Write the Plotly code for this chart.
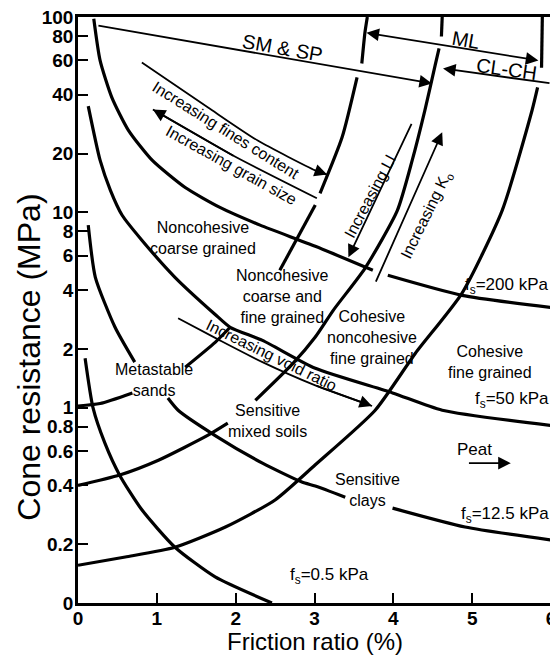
import numpy as np
import plotly.graph_objects as go

# ---------------- data (friction ratio %, cone resistance MPa) ----------------
fs200_rf = [0.20, 0.28, 0.43, 0.64, 0.94, 1.36, 1.80, 2.31, 3.01, 3.74, None, 3.93, 4.87, 6.0]
fs200_q = [98, 60, 38.7, 26.3, 18.5, 13.4, 10.6, 8.6, 6.7, 5.05, None, 4.76, 3.76, 3.26]

fs50_rf = [0.13, 0.28, 0.41, 0.56, 0.81, 1.23, 1.74, 1.93, 2.34, 3.01, 3.99, 4.62, 6.0]
fs50_q = [35, 18.5, 13.0, 9.66, 7.2, 4.65, 3.0, 2.58, 2.21, 1.59, 1.19, 0.97, 0.81]

fs12_rf = [0.13, 0.22, 0.47, 0.72, None, 1.14, 1.27, 1.74, 2.34, 2.84, 3.01, 3.39, None, 3.99, 4.91, 6.0]
fs12_q = [8.6, 4.65, 2.58, 1.71, None, 1.12, 0.97, 0.72, 0.52, 0.416, 0.397, 0.348, None, 0.306, 0.245, 0.21]

fs05_rf = [0.09, 0.19, 0.34, 0.53, 0.81, 1.23, 1.74, 2.46]
fs05_q = [1.79, 1.0, 0.66, 0.45, 0.30, 0.193, 0.136, 0.1]

bndE_rf = [0.0, 0.60, 1.23, 1.87, 2.50, 3.01, 3.77, 4.28, 4.87, 5.38, 5.76, 5.83, None, 5.88, 5.89]
bndE_q = [0.156, 0.172, 0.193, 0.245, 0.337, 0.51, 0.97, 1.90, 3.85, 10.2, 33.3, 43.6, None, 55, 100]

bndF_rf = [0.0, 0.53, 1.02, 1.65, 1.90, None, 2.25, 2.73, 3.01, 3.24, 3.64, 4.05, 4.24, 4.40, 4.53, 4.58, None, 4.61, 4.62]
bndF_q = [0.40, 0.452, 0.538, 0.723, 0.833, None, 1.09, 1.69, 2.30, 3.16, 5.17, 10.2, 18.5, 33.3, 56.5, 69, None, 79.5, 100]

bndG_rf = [0.0, 0.28, 0.69, None, 1.36, 1.74, 1.93, None, 2.56, 3.01, None, 3.07, 3.35, 3.54, None, 3.60, 3.64, 3.67]
bndG_q = [1.02, 1.05, 1.19, None, 1.61, 2.16, 2.58, None, 5.05, 10.9, None, 12.5, 24.2, 49.1, None, 57.8, 83.3, 100]

# trend arrows (curved bodies)
fines_rf = [0.81, 1.65, 2.28, 3.01, 3.16]
fines_q = [58.5, 34.4, 23.3, 16.4, 15.6]
grain_rf = [3.03, 1.99, 0.95]
grain_q = [11.8, 19.3, 33.6]
void_rf = [1.27, 1.80, 2.34, 3.01, 3.73]
void_q = [2.87, 2.21, 1.71, 1.30, 1.02]

# straight arrows: (tail_rf, tail_q, head_rf, head_q)
smsp_arrow = [0.24, 90.5, 4.49, 45.7]
ml_arrow = [3.64, 83.3, 5.84, 59.9]
clch_arrow = [6.0, 45.7, 4.63, 54.5]
li_arrow = [4.24, 28.9, 3.43, 5.89]
ko_arrow = [3.77, 4.34, 4.62, 25.7]
peat_arrow = [4.94, 0.52, 5.49, 0.52]

ytick_vals = [0.1, 0.2, 0.4, 0.6, 0.8, 1, 2, 4, 6, 8, 10, 20, 40, 60, 80, 100]
ytick_text = ["0", "0.2", "0.4", "0.6", "0.8", "1", "2", "4", "6", "8", "10", "20", "40", "60", "80", "100"]
xtick_vals = [0, 1, 2, 3, 4, 5, 6]

FONT = "Liberation Sans, Arial, Helvetica, sans-serif"

fig = go.Figure()

main_line = dict(color="black", width=3.2, shape="spline", smoothing=0.6)
for rf, q in [(fs200_rf, fs200_q), (fs50_rf, fs50_q), (fs12_rf, fs12_q), (fs05_rf, fs05_q),
              (bndE_rf, bndE_q), (bndF_rf, bndF_q), (bndG_rf, bndG_q)]:
    fig.add_trace(go.Scatter(x=rf, y=q, mode="lines", line=main_line, connectgaps=False,
                             hoverinfo="skip", showlegend=False))

thin_line = dict(color="black", width=1.8, shape="spline", smoothing=0.6)
for rf, q in [(fines_rf, fines_q), (grain_rf, grain_q), (void_rf, void_q)]:
    fig.add_trace(go.Scatter(x=rf, y=q, mode="lines", line=thin_line,
                             hoverinfo="skip", showlegend=False))

anns = []


def arrow(tx, tq, hx, hq, both=False):
    d = dict(x=hx, y=np.log10(hq), ax=tx, ay=np.log10(tq), xref="x", yref="y",
             axref="x", ayref="y", text="", showarrow=True, arrowhead=2,
             arrowsize=1.4, arrowwidth=1.8, arrowcolor="black", standoff=0, startstandoff=0)
    if both:
        d.update(arrowside="end+start", startarrowhead=2, startarrowsize=1.4)
    anns.append(d)


for a in [smsp_arrow, clch_arrow, li_arrow, ko_arrow, peat_arrow]:
    arrow(*a)
arrow(*ml_arrow, both=True)
# heads of curved arrows
arrow(fines_rf[-2], fines_q[-2], fines_rf[-1], fines_q[-1])
arrow(grain_rf[-2], grain_q[-2], grain_rf[-1], grain_q[-1])
arrow(void_rf[-2], void_q[-2], void_rf[-1], void_q[-1])


def label(txt, rf, q, size=16, angle=0, xanchor="center"):
    anns.append(dict(x=rf, y=np.log10(q), xref="x", yref="y", text=txt, showarrow=False,
                     textangle=angle, xanchor=xanchor, yanchor="middle",
                     font=dict(family=FONT, size=size, color="black")))


label("SM &amp; SP", 2.60, 69.8, size=20, angle=10)
label("ML", 4.92, 76.7, size=20, angle=10)
label("CL-CH", 5.44, 53.9, size=20, angle=8)
label("Increasing fines content", 1.88, 26.2, angle=32)
label("Increasing grain size", 1.95, 17.4, angle=29)
label("Increasing LI", 3.70, 12.1, angle=-62)
label("Increasing K<sub>o</sub>", 4.42, 9.66, angle=-64)
label("Increasing void ratio", 2.46, 1.86, angle=26)
label("Noncohesive<br>coarse grained", 1.59, 7.36)
label("Noncohesive<br>coarse and<br>fine grained", 2.59, 3.72)
label("Cohesive<br>noncohesive<br>fine grained", 3.73, 2.30)
label("Cohesive<br>fine grained", 5.23, 1.71)
label("f<sub>s</sub>=200 kPa", 6.0, 4.18, size=17, xanchor="right")
label("f<sub>s</sub>=50 kPa", 6.0, 1.09, size=17, xanchor="right")
label("f<sub>s</sub>=12.5 kPa", 6.0, 0.282, size=17, xanchor="right")
label("f<sub>s</sub>=0.5 kPa", 3.19, 0.137, size=17)
label("Metastable<br>sands", 0.96, 1.38)
label("Sensitive<br>mixed soils", 2.40, 0.853)
label("Sensitive<br>clays", 3.67, 0.378)
label("Peat", 5.03, 0.614, size=17)

# axis titles
anns.append(dict(x=0.5, y=-0.0656, xref="paper", yref="paper", text="Friction ratio (%)",
                 showarrow=False, xanchor="center", yanchor="middle",
                 font=dict(family=FONT, size=24, color="black")))
anns.append(dict(x=-0.104, y=0.42, xref="paper", yref="paper", text="Cone resistance (MPa)",
                 showarrow=False, xanchor="center", yanchor="middle", textangle=-90,
                 borderpad=0, font=dict(family=FONT, size=32, color="black")))

axis_common = dict(showgrid=False, zeroline=False, showline=True, linecolor="black",
                   linewidth=2.5, mirror=True, ticks="inside", ticklen=10, tickwidth=2,
                   tickcolor="black", automargin=False, ticklabeloverflow="allow",
                   tickfont=dict(family=FONT, size=19, color="black", weight="bold"))

# the page body adds an 8 px offset, so the figure is 8 px smaller than the window
fig.update_layout(
    width=550, height=656, autosize=False,
    margin=dict(l=70, r=7, t=8.5, b=61),
    paper_bgcolor="white", plot_bgcolor="white",
    showlegend=False,
    annotations=anns,
    xaxis=dict(range=[0, 6], tickvals=xtick_vals, ticklabelstandoff=-4, **axis_common),
    yaxis=dict(type="log", range=[-1, 2], tickvals=ytick_vals, ticktext=ytick_text,
               ticklabelstandoff=-2, **axis_common),
)

fig.write_html("out.html")
